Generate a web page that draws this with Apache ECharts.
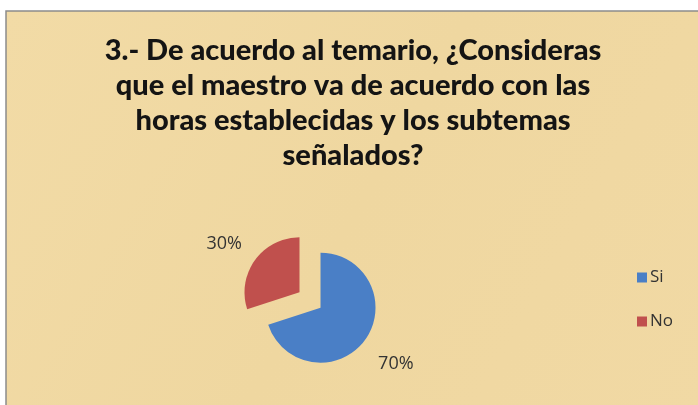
<!DOCTYPE html>
<html>
<head>
<meta charset="utf-8">
<script src="https://cdn.jsdelivr.net/npm/echarts@6/dist/echarts.min.js"></script>
<style>
  html, body { margin: 0; padding: 0; background: #fff; }
  #chart { width: 698px; height: 405px; }
</style>
</head>
<body>
<div id="chart"></div>
<script>
// datos de la pregunta 3
const categories = ['Si', 'No'];
const percents = [70, 30];
const colors = ['#4A7FC6', '#C0504D'];
const titleText = '3.- De acuerdo al temario, ¿Consideras\nque el maestro va de acuerdo con las\nhoras establecidas y los subtemas\nseñalados?';

const chart = echarts.init(document.getElementById('chart'), null, { renderer: 'canvas' });

const pieData = categories.map((name, i) => ({
  name,
  value: percents[i],
  selected: true,
  itemStyle: { color: colors[i] }
}));

// ajuste vertical de las etiquetas (Si baja, No sube)
const labelShift = [18, -10];

const option = {
  animation: false,
  graphic: [
    {
      type: 'rect',
      silent: true,
      z: -10,
      shape: { x: 6, y: 11, width: 700, height: 400 },
      style: {
        fill: new echarts.graphic.LinearGradient(0, 0, 1, 1, [
          { offset: 0, color: '#F2DBA6' },
          { offset: 0.5, color: '#EFD7A0' },
          { offset: 1, color: '#F1D9A4' }
        ]),
        stroke: '#8c8c8c',
        lineWidth: 1.5
      }
    }
  ],
  title: {
    text: titleText,
    left: 348,
    top: 28,
    textAlign: 'center',
    textStyle: {
      fontFamily: 'Lato',
      fontWeight: 900,
      fontSize: 29,
      lineHeight: 35,
      color: '#141414'
    }
  },
  legend: {
    orient: 'vertical',
    left: 632,
    top: 264,
    itemWidth: 10,
    itemHeight: 10,
    itemGap: 27,
    icon: 'rect',
    selectedMode: false,
    data: categories,
    textStyle: { fontFamily: 'Open Sans', fontSize: 17, color: '#333', padding: [0, 0, 0, -2] }
  },
  series: [
    {
      type: 'pie',
      center: [310, 300],
      radius: 55,
      startAngle: 90,
      clockwise: true,
      selectedMode: 'multiple',
      selectedOffset: 13,
      data: pieData,
      label: {
        show: true,
        position: 'outside',
        formatter: '{c}%',
        fontFamily: 'Open Sans',
        fontSize: 18,
        color: '#333'
      },
      labelLine: { show: false, length: 10, length2: 0 },
      labelLayout: function (params) {
        return { dy: labelShift[params.dataIndex] };
      },
      emphasis: { disabled: true }
    }
  ]
};

chart.setOption(option);
</script>
</body>
</html>
